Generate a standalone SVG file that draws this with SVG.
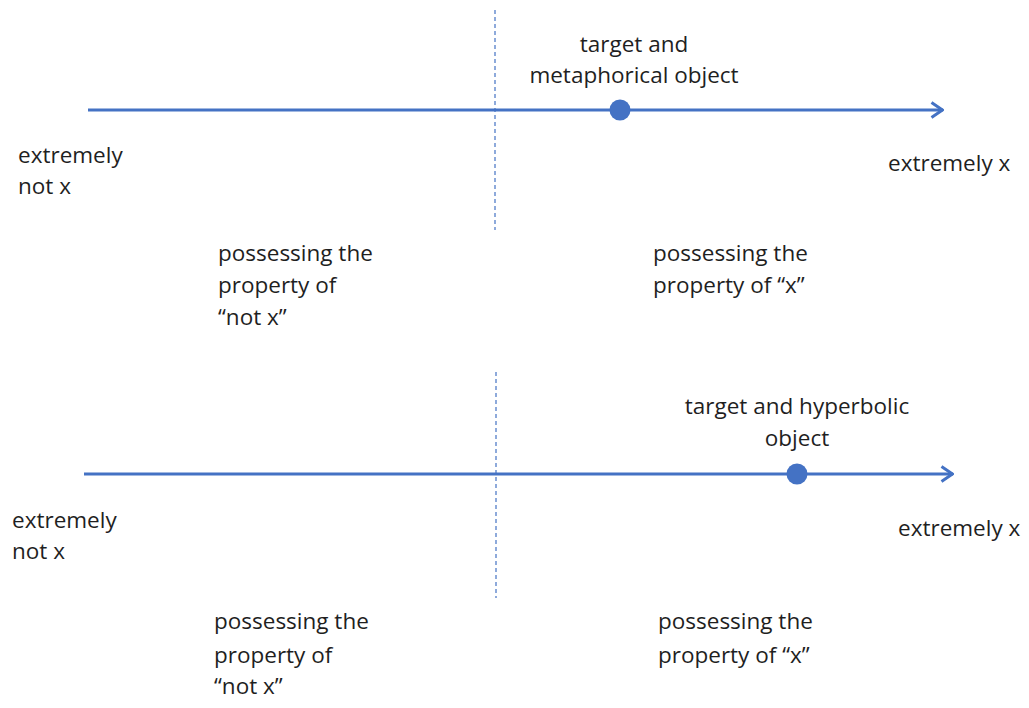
<svg xmlns="http://www.w3.org/2000/svg" width="1029" height="708" viewBox="0 0 1029 708">
<style>
text{font-family:"Open Sans","Liberation Sans",sans-serif;font-size:22.5px;fill:#1f1f1f}
.c{text-anchor:middle}
.axis{stroke:#4472C4;stroke-width:3;fill:none}
.div{stroke:#4472C4;stroke-width:1.2;stroke-dasharray:4 3;fill:none}
.dot{fill:#4472C4}
</style>
<defs>
<marker id="arr" viewBox="0 0 14 18" refX="13" refY="9" markerWidth="14" markerHeight="18" markerUnits="userSpaceOnUse" orient="auto">
<path d="M1.5,1.5 L12.5,9 L1.5,16.5" fill="none" stroke="#4472C4" stroke-width="3" stroke-linejoin="miter"/>
</marker>
</defs>
<g id="connectors">
<line class="axis" x1="88" y1="110" x2="943" y2="110" marker-end="url(#arr)"/>
<line class="div" x1="495" y1="10" x2="495" y2="230"/>
<line class="axis" x1="84" y1="474" x2="953" y2="474" marker-end="url(#arr)"/>
<line class="div" x1="496" y1="372" x2="496" y2="598"/>
</g>
<g id="top-point">
<circle class="dot" cx="620" cy="110" r="10.5"/>
<text class="c" x="634" y="52">target and</text>
<text class="c" x="634" y="83">metaphorical object</text>
</g>
<g id="top-left-end"><text x="18" y="163">extremely</text><text x="18" y="194">not x</text></g>
<g id="top-right-end"><text x="888" y="171">extremely x</text></g>
<g id="top-left-region"><text x="218" y="261">possessing the</text><text x="218" y="293">property of</text><text x="218" y="325">“not x”</text></g>
<g id="top-right-region"><text x="653" y="261">possessing the</text><text x="653" y="293">property of “x”</text></g>
<g id="bottom-point">
<circle class="dot" cx="797" cy="474" r="10.5"/>
<text class="c" x="797" y="414">target and hyperbolic</text>
<text class="c" x="797" y="446">object</text>
</g>
<g id="bottom-left-end"><text x="12" y="528">extremely</text><text x="12" y="559">not x</text></g>
<g id="bottom-right-end"><text x="898" y="536">extremely x</text></g>
<g id="bottom-left-region"><text x="214" y="629">possessing the</text><text x="214" y="663">property of</text><text x="214" y="694">“not x”</text></g>
<g id="bottom-right-region"><text x="658" y="629">possessing the</text><text x="658" y="663">property of “x”</text></g>
</svg>
